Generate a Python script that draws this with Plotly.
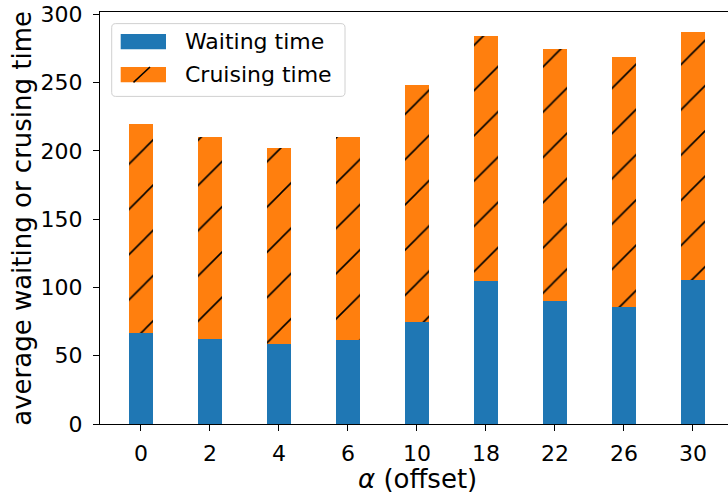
import plotly.graph_objects as go

# Offset values on the x axis and the two stacked components per offset
alpha_labels = ["0", "2", "4", "6", "10", "18", "22", "26", "30"]
waiting_time = [66.5, 62.3, 58.6, 61.6, 75.0, 105.0, 90.1, 86.0, 105.5]
cruising_time = [153.5, 148.2, 143.7, 148.2, 173.5, 179.4, 184.5, 182.8, 181.8]
y_ticks = [0, 50, 100, 150, 200, 250, 300]

BLUE = "#1f77b4"
ORANGE = "#ff7f0e"
FONT = "DejaVu Sans"

W, H = 728, 494
# plot area in pixels
L, T, R, B = 100, 12.4, 728, 424

positions = list(range(len(alpha_labels)))
totals = [w + c for w, c in zip(waiting_time, cruising_time)]
y_max = 1.05 * max(totals)
bar_px = 69.0  # pixel distance between neighbouring bars
x_lo = -0.5925
x_hi = x_lo + (R - L) / bar_px


def px(x):
    return (x - L) / (R - L)


def py(y):
    return (B - y) / (B - T)


fig = go.Figure()
fig.add_trace(go.Bar(
    x=positions, y=waiting_time, width=0.35, name="Waiting time",
    marker=dict(color=BLUE, line=dict(width=0)),
    showlegend=False,
))
fig.add_trace(go.Bar(
    x=positions, y=cruising_time, width=0.35, name="Cruising time",
    marker=dict(
        color=ORANGE, line=dict(width=0),
        pattern=dict(shape="/", fgcolor="black", bgcolor=ORANGE,
                     size=32, solidity=0.05, fillmode="replace"),
    ),
    showlegend=False,
))

axis_common = dict(
    showline=True, linecolor="black", linewidth=1.3,
    ticks="outside", ticklen=6, tickwidth=1.3, tickcolor="black",
    showgrid=False, zeroline=False,
    tickfont=dict(family=FONT, size=22, color="black"),
)

fig.update_layout(
    width=W, height=H,
    margin=dict(l=L, r=W - R, t=T, b=H - B, pad=0),
    paper_bgcolor="white", plot_bgcolor="white",
    barmode="stack", bargap=0,
    font=dict(family=FONT, color="black"),
    xaxis=dict(axis_common, range=[x_lo, x_hi], tickvals=positions,
               ticktext=alpha_labels, mirror=True, ticklabelstandoff=3),
    yaxis=dict(axis_common, range=[0, y_max], tickvals=y_ticks,
               ticklabelstandoff=6),
)

# axis titles
fig.add_annotation(
    text="<i>α</i> (offset)", xref="paper", yref="paper",
    x=px(417.5), y=py(479), xanchor="center", yanchor="middle",
    showarrow=False, font=dict(family=FONT, size=26, color="black"),
)
fig.add_annotation(
    text="average waiting or crusing time", xref="paper", yref="paper",
    x=px(22), y=py(219), xanchor="center", yanchor="middle", textangle=-90,
    showarrow=False, font=dict(family=FONT, size=26, color="black"),
)

# legend box with rounded corners
bx0, by0, bx1, by1, rad = 111.7, 24.0, 345.0, 96.7, 4.0


def pp(x, y):
    return f"{px(x):.5f},{py(y):.5f}"


box_path = (
    f"M{pp(bx0 + rad, by0)} L{pp(bx1 - rad, by0)} Q{pp(bx1, by0)} {pp(bx1, by0 + rad)} "
    f"L{pp(bx1, by1 - rad)} Q{pp(bx1, by1)} {pp(bx1 - rad, by1)} "
    f"L{pp(bx0 + rad, by1)} Q{pp(bx0, by1)} {pp(bx0, by1 - rad)} "
    f"L{pp(bx0, by0 + rad)} Q{pp(bx0, by0)} {pp(bx0 + rad, by0)} Z"
)
fig.add_shape(type="path", path=box_path, xref="paper", yref="paper",
              fillcolor="rgba(255,255,255,0.8)", line=dict(color="#d0d0d0", width=1))

# legend handles
fig.add_shape(type="rect", xref="paper", yref="paper",
              x0=px(120.7), x1=px(166), y0=py(49.7), y1=py(34.3),
              fillcolor=BLUE, line=dict(width=0))
fig.add_shape(type="rect", xref="paper", yref="paper",
              x0=px(120.7), x1=px(166), y0=py(82.7), y1=py(67.3),
              fillcolor=ORANGE, line=dict(width=0))
fig.add_shape(type="line", xref="paper", yref="paper",
              x0=px(133.5), y0=py(82.7), x1=px(150), y1=py(67.3),
              line=dict(color="black", width=1.5))

for label, yc in (("Waiting time", 42.0), ("Cruising time", 75.0)):
    fig.add_annotation(
        text=label, xref="paper", yref="paper", x=px(183), y=py(yc),
        xanchor="left", yanchor="middle", showarrow=False,
        font=dict(family=FONT, size=22, color="black"),
    )

fig.write_html("out.html")
